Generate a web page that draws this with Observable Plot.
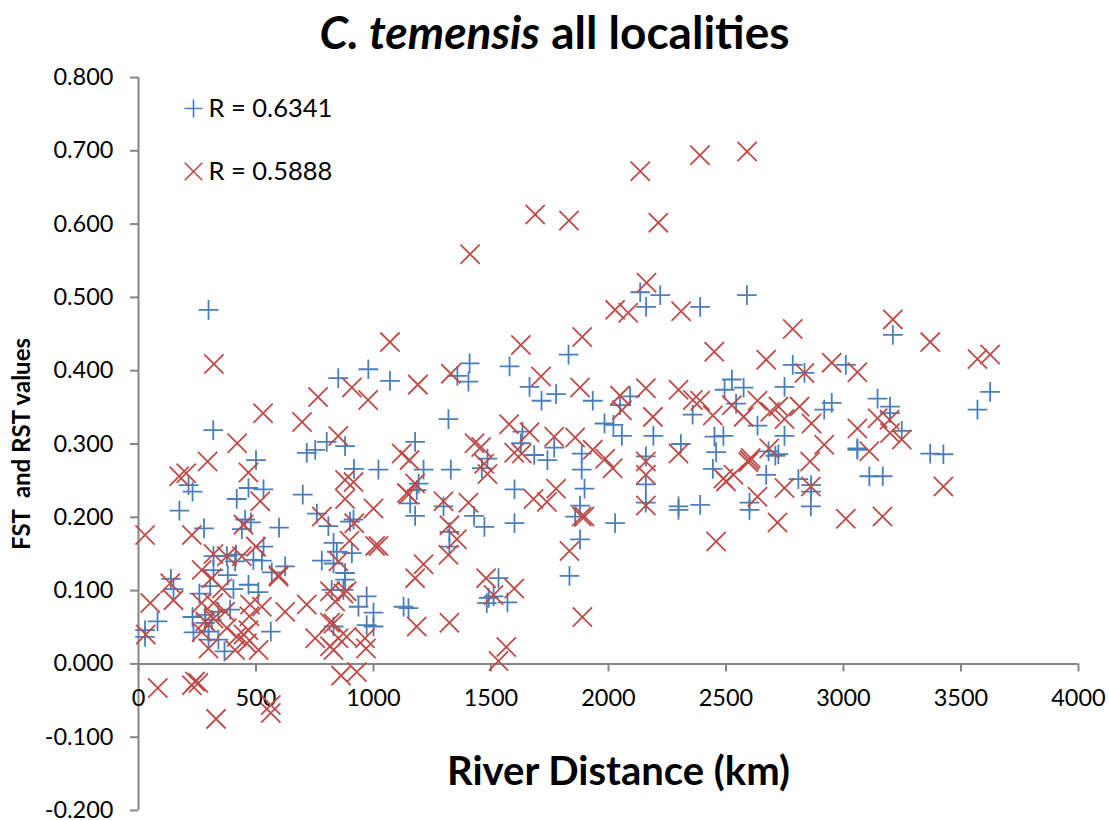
<!DOCTYPE html>
<html><head><meta charset="utf-8">
<script src="https://cdn.jsdelivr.net/npm/d3@7"></script>
<script src="https://cdn.jsdelivr.net/npm/@observablehq/plot@0.6"></script>
<style>
html,body{margin:0;padding:0;background:#fff}
#title{height:64px;width:1109px;text-align:center;font:700 46px/64px Lato,sans-serif;color:#000;white-space:nowrap;overflow:visible}
svg{display:block}
</style></head><body>
<div id="title"><i>C. temensis</i> all localities</div>
<div id="chart"></div>
<script>
const xTicks=[0,500,1000,1500,2000,2500,3000,3500,4000];
const yTicks=[-0.2,-0.1,0,0.1,0.2,0.3,0.4,0.5,0.6,0.7,0.8];
const legendLabels=["R = 0.6341","R = 0.5888"];
const fstPoints=[[500,.278],[716,.288],[752,.292],[801,.303],[879,.297],[917,.266],[1021,.265],[213,.244],[230,.235],[174,.209],[468,.24],[532,.238],[418,.225],[699,.231],[279,.185],[454,.197],[478,.193],[440,.184],[598,.186],[759,.205],[808,.188],[900,.194],[915,.197],[830,.165],[844,.153],[908,.151],[532,.16],[780,.141],[830,.137],[319,.147],[376,.147],[415,.149],[411,.14],[489,.142],[525,.141],[319,.128],[380,.121],[567,.125],[624,.133],[879,.124],[879,.115],[138,.116],[149,.102],[259,.096],[305,.106],[404,.102],[468,.108],[510,.098],[822,.101],[872,.101],[971,.092],[936,.078],[1000,.07],[230,.064],[284,.067],[340,.071],[390,.074],[284,.056],[312,.06],[830,.051],[971,.053],[1000,.051],[81,.058],[28,.046],[28,.037],[234,.043],[298,.044],[298,.033],[340,.033],[366,.017],[563,.044],[298,.483],[318,.319],[850,.39],[978,.402],[1070,.386],
[1409,.41],[1579,.406],[1830,.422],[1357,.393],[1404,.385],[1664,.378],[1715,.359],[1777,.368],[1933,.359],[2092,.365],[2049,.353],[1319,.334],[1634,.317],[1627,.301],[1983,.328],[2021,.326],[2057,.311],[1684,.285],[1740,.278],[1769,.295],[1886,.287],[1886,.265],[2191,.311],[1177,.303],[1213,.265],[1329,.265],[1461,.267],[1485,.28],[1192,.246],[1184,.237],[1156,.219],[1177,.202],[1298,.215],[1428,.202],[1472,.187],[1600,.238],[1600,.192],[1898,.239],[1879,.216],[1858,.201],[1879,.17],[2028,.192],[1323,.18],[1323,.16],[2159,.283],[2159,.245],[2159,.22],[1532,.117],[1834,.12],[1511,.092],[1482,.083],[1570,.084],[1490,.09],[1128,.078],[1149,.076],
[2220,.503],[2135,.507],[2160,.487],[2390,.487],[2589,.503],[3210,.449],[2525,.388],[2494,.374],[2575,.377],[2784,.408],[2834,.397],[2749,.378],[3010,.408],[3145,.362],[3198,.351],[3198,.342],[2950,.356],[2918,.347],[3624,.371],[3570,.347],[2543,.355],[2358,.34],[2634,.325],[3248,.318],[2749,.311],[2308,.3],[2451,.31],[2489,.311],[2458,.289],[2444,.266],[2681,.29],[2723,.286],[2710,.284],[3059,.292],[3059,.294],[3369,.287],[3425,.286],[2671,.258],[2808,.252],[2862,.244],[2862,.235],[3110,.256],[3167,.256],[2861,.215],[2600,.22],[2600,.21],[2390,.217],[2298,.215],[2298,.21]];
const rstPoints=[[420,.301],[294,.276],[203,.26],[173,.256],[468,.261],[518,.222],[879,.251],[915,.248],[879,.225],[1000,.212],[1149,.231],[780,.201],[918,.192],[447,.19],[28,.176],[227,.176],[500,.16],[319,.15],[376,.147],[440,.147],[898,.168],[1007,.161],[1021,.161],[851,.14],[269,.128],[312,.117],[596,.121],[596,.119],[135,.11],[355,.103],[50,.083],[149,.087],[269,.083],[319,.083],[525,.078],[624,.071],[716,.081],[815,.099],[837,.085],[886,.099],[872,.096],[475,.081],[369,.071],[472,.065],[284,.058],[319,.062],[376,.049],[418,.037],[468,.046],[447,.04],[815,.056],[830,.055],[269,.044],[298,.021],[411,.019],[461,.028],[511,.019],[752,.035],[815,.024],[830,.019],[886,.037],[851,.035],[964,.035],[968,.021],[31,.04],[82,-.033],[241,-.024],[227,-.029],[255,-.026],[330,-.075],[563,-.056],[563,-.067],[862,-.016],[929,-.011],
[1627,.435],[1189,.381],[1329,.396],[1713,.392],[1879,.377],[2049,.366],[2057,.346],[2159,.376],[2189,.337],[2298,.374],[1577,.327],[1664,.316],[1769,.31],[1858,.309],[1430,.301],[1458,.296],[1933,.292],[1986,.28],[2018,.267],[1599,.288],[1631,.287],[1153,.278],[1120,.287],[1471,.273],[1485,.259],[1177,.246],[1142,.233],[1298,.222],[1404,.22],[1681,.225],[1738,.221],[1777,.239],[1886,.201],[1898,.201],[1323,.189],[1355,.17],[1319,.149],[1213,.136],[1177,.117],[1834,.154],[1479,.117],[1599,.103],[1511,.094],[1184,.051],[1323,.056],[1889,.064],[1565,.023],[1532,.004],[2159,.276],[2159,.258],[2159,.216],[2298,.287],[1411,.559],
[2309,.481],[2784,.457],[3210,.47],[3369,.439],[3570,.416],[3624,.422],[2450,.426],[2671,.415],[2950,.411],[3059,.398],[2834,.397],[2359,.36],[2390,.359],[2444,.339],[2525,.353],[2634,.359],[2575,.337],[2688,.344],[2723,.351],[2749,.334],[2813,.351],[2864,.328],[3145,.335],[3196,.333],[3198,.315],[3248,.306],[3059,.321],[2918,.299],[3110,.29],[2684,.294],[2600,.278],[2595,.275],[2605,.281],[2858,.276],[2489,.253],[2532,.258],[2500,.249],[2634,.228],[2749,.24],[2861,.242],[3425,.242],[2719,.193],[3010,.198],[3166,.201],[2458,.167],
[2135,.672],[2389,.694],[2590,.699],[1688,.613],[1832,.605],[2212,.602],[2162,.52],[2028,.483],[2084,.479],[1888,.446],[1070,.439],[321,.409],[764,.364],[696,.33],[530,.342],[850,.311],[908,.377],[977,.36]];
const blue="#4a7ebb",red="#be4b48",axisColor="#868686";
const yFormat=d=>d3.format(".3f")(d).replace("−","-");
const chart=Plot.plot({
  width:1109,height:756,marginTop:13,marginBottom:10,marginLeft:138,marginRight:31,
  style:{fontFamily:"Lato, sans-serif",background:"#fff",color:"#000",overflow:"visible"},
  x:{domain:[0,4000],axis:null},
  y:{domain:[-0.2,0.8],axis:null},
  marks:[
    Plot.ruleX([0],{stroke:axisColor,strokeWidth:2}),
    Plot.ruleY([0],{stroke:axisColor,strokeWidth:2}),
    Plot.ruleY(yTicks,{y:d=>d,x1:0,x2:0,insetLeft:-8,stroke:axisColor,strokeWidth:2}),
    Plot.axisY(yTicks,{anchor:"left",tickSize:0,tickPadding:25,tickFormat:yFormat,label:null,fontSize:23.5,fill:"#000"}),
    Plot.ruleX(xTicks,{x:d=>d,y1:0,y2:-0.011,stroke:axisColor,strokeWidth:2}),
    Plot.text(xTicks,{x:d=>d,y:0,dy:35,text:d=>String(d),fontSize:23.5,fill:"#000"}),
    Plot.dot(fstPoints,{x:d=>d[0],y:d=>d[1],symbol:"plus",r:6.4,stroke:blue,strokeWidth:1.8}),
    Plot.dot(rstPoints,{x:d=>d[0],y:d=>d[1],symbol:"times",r:8.8,stroke:red,strokeWidth:1.8}),
    Plot.dot(["plus"],{frameAnchor:"top-left",dx:55,dy:31,symbol:"plus",r:5.9,stroke:blue,strokeWidth:1.6}),
    Plot.dot(["times"],{frameAnchor:"top-left",dx:55,dy:94,symbol:"times",r:8,stroke:red,strokeWidth:1.6}),
    Plot.text([legendLabels[0]],{frameAnchor:"top-left",dx:70,dy:31,text:d=>d,textAnchor:"start",lineAnchor:"middle",fontSize:25.5,fill:"#000"}),
    Plot.text([legendLabels[1]],{frameAnchor:"top-left",dx:70,dy:94,text:d=>d,textAnchor:"start",lineAnchor:"middle",fontSize:25.5,fill:"#000"}),
    Plot.text(["River Distance (km)"],{frameAnchor:"bottom",dx:10,dy:-26,text:d=>d,textAnchor:"middle",fontSize:40,fontWeight:700,fill:"#000"}),
    Plot.text(["FST  and RST values"],{frameAnchor:"left",dx:-116,dy:0,rotate:-90,text:d=>d,textAnchor:"middle",fontSize:24,fontWeight:700,fill:"#000",lineAnchor:"middle"})
  ]
});
document.getElementById("chart").appendChild(chart);
</script>
</body></html>
